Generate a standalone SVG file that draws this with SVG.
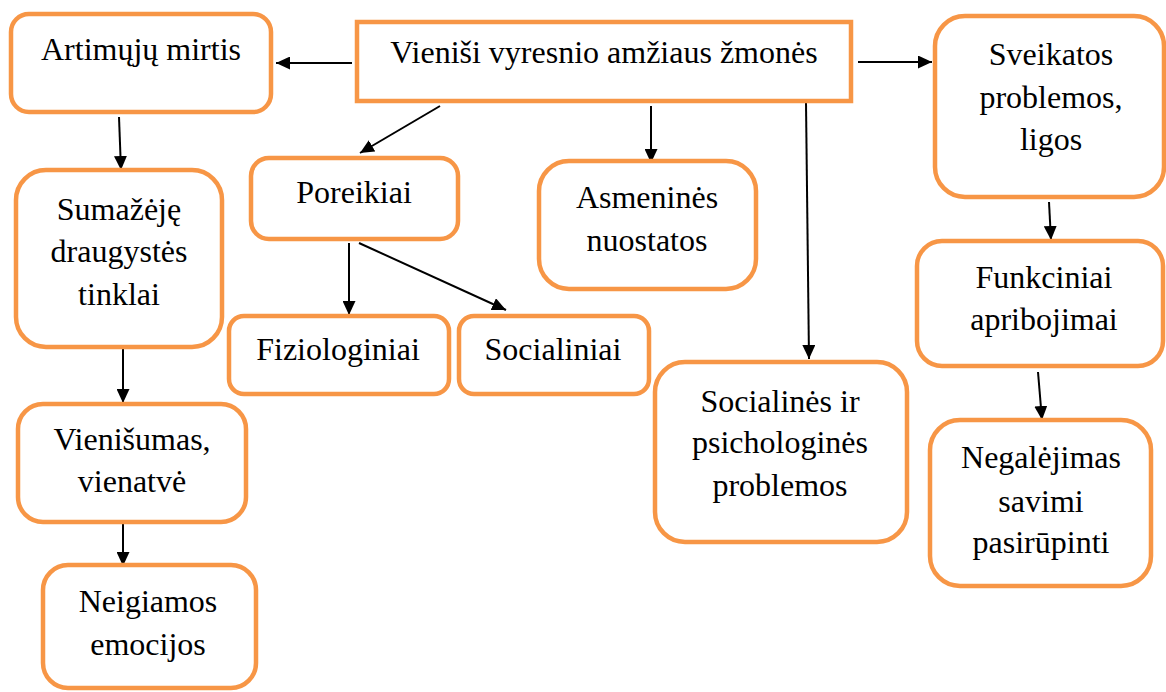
<svg xmlns="http://www.w3.org/2000/svg" width="1166" height="692" viewBox="0 0 1166 692">
<style>
.box{fill:#fff;stroke:#F79646;stroke-width:4.5}
text{font-family:"Liberation Serif","Times New Roman",serif;font-size:32px;fill:#000;text-anchor:middle}
.c{stroke:#000;stroke-width:2;fill:none;marker-end:url(#ah)}
</style>
<defs>
<marker id="ah" viewBox="0 0 14 13" refX="14" refY="6.5" markerWidth="7" markerHeight="6.5" orient="auto">
<path d="M0,0 L14,6.5 L0,13 z" fill="#000"/>
</marker>
</defs>
<g id="connectors">
<line class="c" x1="352" y1="63" x2="276" y2="63"/>
<line class="c" x1="858" y1="62" x2="932" y2="62"/>
<line class="c" x1="119" y1="117" x2="121" y2="170"/>
<line class="c" x1="123" y1="348" x2="123" y2="403"/>
<line class="c" x1="123" y1="523" x2="123" y2="566"/>
<line class="c" x1="440" y1="106" x2="360" y2="153"/>
<line class="c" x1="651" y1="106" x2="651" y2="163"/>
<line class="c" x1="806" y1="103" x2="809" y2="359"/>
<line class="c" x1="349" y1="243" x2="349" y2="315"/>
<line class="c" x1="359" y1="243" x2="506" y2="310"/>
<line class="c" x1="1049" y1="202" x2="1051" y2="240"/>
<line class="c" x1="1038" y1="372" x2="1042" y2="420"/>
</g>
<g id="n-top">
<rect class="box" x="357" y="22" width="494" height="79"/>
<text x="604" y="63">Vieniši vyresnio amžiaus žmonės</text>
</g>
<g id="n-artimuju">
<rect class="box" x="11" y="14" width="260" height="98" rx="18"/>
<text x="141" y="60">Artimųjų mirtis</text>
</g>
<g id="n-sumazeje">
<rect class="box" x="16" y="170" width="206" height="177" rx="30"/>
<text x="119" y="220">Sumažėję</text>
<text x="119" y="262">draugystės</text>
<text x="119" y="305">tinklai</text>
</g>
<g id="n-vienisumas">
<rect class="box" x="18" y="404" width="228" height="118" rx="25"/>
<text x="132" y="450">Vienišumas,</text>
<text x="132" y="492">vienatvė</text>
</g>
<g id="n-neigiamos">
<rect class="box" x="43" y="565" width="213" height="123" rx="25"/>
<text x="148" y="612">Neigiamos</text>
<text x="148" y="655">emocijos</text>
</g>
<g id="n-poreikiai">
<rect class="box" x="251" y="158" width="207" height="81" rx="18"/>
<text x="354" y="203">Poreikiai</text>
</g>
<g id="n-fiziologiniai">
<rect class="box" x="229" y="316" width="220" height="78" rx="15"/>
<text x="338" y="360">Fiziologiniai</text>
</g>
<g id="n-socialiniai">
<rect class="box" x="459" y="316" width="190" height="78" rx="15"/>
<text x="553" y="360">Socialiniai</text>
</g>
<g id="n-asmenines">
<rect class="box" x="539" y="161" width="217" height="128" rx="30"/>
<text x="647" y="208">Asmeninės</text>
<text x="647" y="251">nuostatos</text>
</g>
<g id="n-socialines">
<rect class="box" x="655" y="362" width="252" height="180" rx="30"/>
<text x="780" y="412">Socialinės ir</text>
<text x="780" y="453">psichologinės</text>
<text x="780" y="496">problemos</text>
</g>
<g id="n-sveikatos">
<rect class="box" x="935" y="16" width="229" height="181" rx="30"/>
<text x="1051" y="65">Sveikatos</text>
<text x="1051" y="108">problemos,</text>
<text x="1051" y="150">ligos</text>
</g>
<g id="n-funkciniai">
<rect class="box" x="917" y="241" width="246" height="125" rx="25"/>
<text x="1044" y="288">Funkciniai</text>
<text x="1044" y="330">apribojimai</text>
</g>
<g id="n-negalejimas">
<rect class="box" x="930" y="420" width="221" height="166" rx="30"/>
<text x="1041" y="468">Negalėjimas</text>
<text x="1041" y="512">savimi</text>
<text x="1041" y="553">pasirūpinti</text>
</g>
</svg>
